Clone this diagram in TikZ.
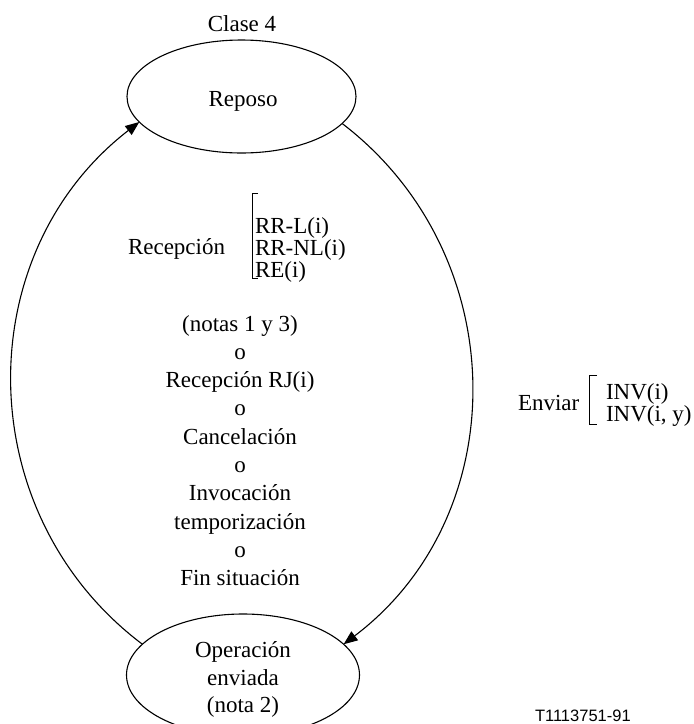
\documentclass[tikz,border=0pt]{standalone}
\usepackage{fontspec}
\setmainfont{Liberation Serif}
\newfontfamily\tagfont{Liberation Sans}
\usetikzlibrary{arrows.meta,shapes.geometric}
\begin{document}
\begin{tikzpicture}[x=1pt,y=1pt,
  every node/.style={inner sep=0pt,outer sep=0pt},
  txt/.style={font=\fontsize{23}{28}\selectfont},
  state/.style={draw,ellipse,line width=1.1pt},
  flow/.style={line width=1.1pt,-{Triangle[length=14pt,width=11pt]}},
  brk/.style={line width=0.9pt},
]
\useasboundingbox (0,0) rectangle (694,-724);

% states
\node[state,minimum width=229,minimum height=113] (rep) at (241.5,-96.5) {};
\node[state,minimum width=233,minimum height=122] (op) at (243,-675) {};

\node[txt,anchor=base] (clase) at (242,-31) {Clase 4};
\node[txt,anchor=base] (reptxt) at (243,-106) {Reposo};
\node[txt,anchor=base] (op1) at (243,-657) {Operación};
\node[txt,anchor=base] (op2) at (243,-685) {enviada};
\node[txt,anchor=base] (op3) at (243,-712) {(nota 2)};

% transitions
\draw[flow] (op.163) to[out=143,in=217.7,looseness=1.057] (rep.194.9);
\draw[flow] (rep.345.2) to[out=-37.4,in=37.1,looseness=1.057] (op.17.4);

% reception events
\node[txt,anchor=base west] (rec) at (128,-254) {Recepción};
\coordinate (rb1) at (258,-193);
\coordinate (rb2) at (258,-278);
\draw[brk] (rb1) -- ++(-6,0) |- (rb2);
\node[txt,anchor=base west] (r1) at (255,-233) {RR-L(i)};
\node[txt,anchor=base west] (r2) at (255,-255) {RR-NL(i)};
\node[txt,anchor=base west] (r3) at (255,-277) {RE(i)};

% alternative events
\foreach \t [count=\k] in {{(notas 1 y 3)},o,{Recepción RJ(i)},o,{Cancelación},o,{Invocación},{temporización},o,{Fin situación}}
  \node[txt,anchor=base] (alt\k) at (240,{-331-28.3*(\k-1)}) {\t};

% send events
\node[txt,anchor=base west] (env) at (518,-410) {Enviar};
\coordinate (eb1) at (597,-375);
\coordinate (eb2) at (597,-424);
\draw[brk] (eb1) -- ++(-8,0) |- (eb2);
\node[txt,anchor=base west] (e1) at (606,-399) {INV(i)};
\node[txt,anchor=base west] (e2) at (606,-421) {INV(i, y)};

\node[anchor=base west,font=\tagfont\fontsize{16.5}{18}\selectfont] (tag) at (535,-721) {T1113751-91};
\end{tikzpicture}
\end{document}
